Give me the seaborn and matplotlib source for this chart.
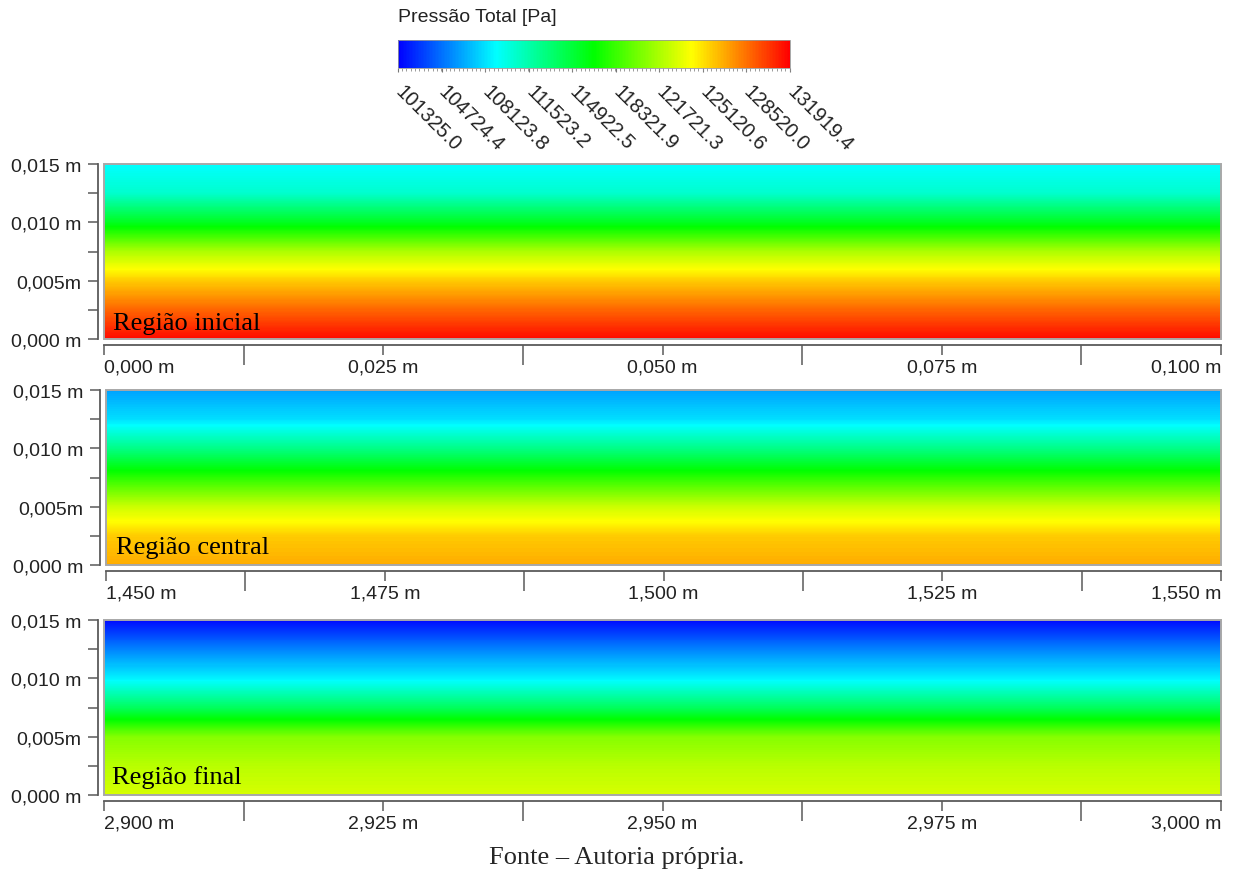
import numpy as np
import matplotlib
matplotlib.use("Agg")
import matplotlib.pyplot as plt
import matplotlib.transforms as mtransforms
import seaborn as sns
from matplotlib.patches import Rectangle
from matplotlib.ticker import MultipleLocator

# heights across the channel [m]
heights = [0.0, 0.0025, 0.005, 0.0075, 0.010, 0.0125, 0.015]

# total pressure [Pa] at each height
p_inicial = [131610, 128860, 125800, 121820, 115700, 110500, 108970]
p_central = [126720, 125800, 122740, 117850, 112650, 108060, 106220]
p_final = [123050, 122130, 120600, 113870, 108670, 105300, 101630]

regions = ["Região inicial", "Região central", "Região final"]
x_ranges = [(0.0, 0.1), (1.45, 1.55), (2.9, 3.0)]
x_tick_values = [
    [0.0, 0.025, 0.05, 0.075, 0.1],
    [1.45, 1.475, 1.5, 1.525, 1.55],
    [2.9, 2.925, 2.95, 2.975, 3.0],
]
x_tick_labels = [
    ["0,000 m", "0,025 m", "0,050 m", "0,075 m", "0,100 m"],
    ["1,450 m", "1,475 m", "1,500 m", "1,525 m", "1,550 m"],
    ["2,900 m", "2,925 m", "2,950 m", "2,975 m", "3,000 m"],
]
y_tick_labels = ["0,000 m", "", "0,005m", "", "0,010 m", "", "0,015 m"]

p_min, p_max = 101325.0, 131919.4
cbar_ticks = [101325.0, 104724.4, 108123.8, 111523.2, 114922.5,
              118321.9, 121721.3, 125120.6, 128520.0, 131919.4]

sns.set_style("ticks")
plt.rcParams["font.family"] = ["Liberation Sans", "DejaVu Sans"]

cmap = sns.blend_palette(["#0000ff", "#00ffff", "#00ff00", "#ffff00", "#ff0000"],
                         n_colors=256, as_cmap=True)

W, H = 1233, 870
fig = plt.figure(figsize=(W / 100, H / 100), dpi=100)


def fig_rect(left, top, right, bottom):
    return [left / W, 1 - bottom / H, (right - left) / W, (bottom - top) / H]


panel_px = [(104, 165, 1221, 340), (106, 391, 1221, 566), (104, 621, 1221, 796)]
label_px = [(9, 10), (10, 12), (8, 12)]
profiles = [p_inicial, p_central, p_final]
axis_col = "#5a5a5a"

im = None
for i in range(3):
    ax = fig.add_axes(fig_rect(*panel_px[i]))
    x0, x1 = x_ranges[i]
    field = np.array([[p, p] for p in profiles[i]])
    half = (heights[1] - heights[0]) / 2
    im = ax.imshow(field, origin="lower", aspect="auto", cmap=cmap,
                   vmin=p_min, vmax=p_max, interpolation="bilinear",
                   interpolation_stage="data",
                   extent=[x0, x1, heights[0] - half, heights[-1] + half])
    ax.set_xlim(x0, x1)
    ax.set_ylim(0, 0.015)

    for side in ["top", "right"]:
        ax.spines[side].set_visible(False)
    for side in ["left", "bottom"]:
        ax.spines[side].set_position(("outward", 4.5))
        ax.spines[side].set_color(axis_col)
        ax.spines[side].set_linewidth(1.3)
    ax.add_patch(Rectangle((0, 0), 1, 1, transform=ax.transAxes, fill=False,
                           edgecolor="#a8a8a8", lw=1.4, zorder=5, clip_on=False))

    ax.set_yticks(heights)
    ax.set_yticklabels(y_tick_labels)
    ax.tick_params(axis="y", left=True, direction="out", length=7.5, width=1.1,
                   color=axis_col, pad=4.5, labelsize=14, labelcolor="#222222")

    ticks = x_tick_values[i]
    ax.set_xticks(ticks)
    ax.set_xticks([(a + b) / 2 for a, b in zip(ticks[:-1], ticks[1:])], minor=True)
    ax.set_xticklabels(x_tick_labels[i])
    ax.tick_params(axis="x", which="major", bottom=True, direction="out",
                   length=7, width=1.1, color=axis_col, pad=2.5, labelsize=14,
                   labelcolor="#222222")
    ax.tick_params(axis="x", which="minor", bottom=True, direction="out",
                   length=14.5, width=1.1, color=axis_col)
    labs = ax.get_xticklabels()
    labs[0].set_ha("left")
    labs[-1].set_ha("right")

    w_px = panel_px[i][2] - panel_px[i][0]
    h_px = panel_px[i][3] - panel_px[i][1]
    ax.text(label_px[i][0] / w_px, label_px[i][1] / h_px, regions[i],
            transform=ax.transAxes, ha="left", va="baseline", fontsize=19,
            family=["Liberation Serif", "DejaVu Serif"], color="black", zorder=6)

# colour bar
cax = fig.add_axes(fig_rect(398, 41, 790, 69))
cbar = fig.colorbar(im, cax=cax, orientation="horizontal")
cbar.outline.set_edgecolor("#999999")
cbar.outline.set_linewidth(0.6)
cbar.set_ticks(cbar_ticks)
cax.set_xticklabels([f"{v:.1f}" for v in cbar_ticks], rotation=-45, ha="left",
                    va="top", rotation_mode="anchor")
cax.xaxis.set_minor_locator(MultipleLocator((p_max - p_min) / 90))
cax.tick_params(axis="x", which="major", bottom=True, length=3, width=0.8,
                color="#777777", pad=7, labelsize=14.5, labelcolor="#222222")
cax.tick_params(axis="x", which="minor", bottom=True, length=2.5, width=0.6,
                color="#8a8a8a")
shift = mtransforms.ScaledTranslation(7 / 100, 0, fig.dpi_scale_trans)
for lab in cax.get_xticklabels():
    lab.set_transform(lab.get_transform() + shift)

fig.text(398 / W, 1 - 18 / H, "Pressão Total [Pa]", ha="left", va="center",
         fontsize=14, color="#222222")

fig.text(617 / W, 1 - 864 / H, "Fonte – Autoria própria.", ha="center",
         va="baseline", fontsize=19, family=["Liberation Serif", "DejaVu Serif"])

fig.savefig("out.png", dpi=100)
